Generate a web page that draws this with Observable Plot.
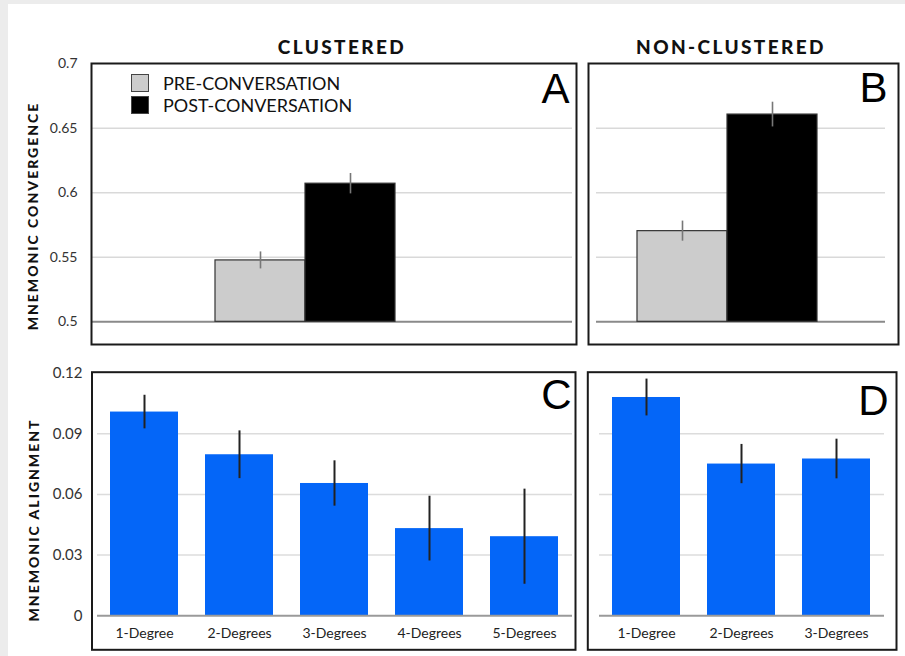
<!DOCTYPE html>
<html><head><meta charset="utf-8">
<script src="https://cdn.jsdelivr.net/npm/d3@7"></script>
<script src="https://cdn.jsdelivr.net/npm/@observablehq/plot@0.6"></script>
<style>
body{margin:0;background:#ececec;}
#wrap{position:relative;width:905px;height:656px;overflow:hidden;background:#ececec;font-family:Lato,sans-serif;}
#card{position:absolute;left:8px;top:4px;right:0;bottom:0;background:#fff;}
#wrap svg{position:absolute;}
.title{position:absolute;transform:translate(-50%,-50%);font-weight:900;font-size:19px;letter-spacing:2.4px;color:#111;white-space:nowrap;}
.ylab{position:absolute;transform:translate(-50%,-50%) rotate(-90deg);font-weight:900;font-size:14px;letter-spacing:2px;white-space:nowrap;color:#111;}
.sw{position:absolute;width:16px;height:16px;border:1.5px solid #444;}
.lt{position:absolute;font-size:18px;color:#111;white-space:nowrap;transform:translateY(-50%);}
</style>
</head><body>
<div id="wrap"><div id="card"></div></div>
<script>
// ---- data ----
const conditions = ["PRE-CONVERSATION", "POST-CONVERSATION"];
const conditionColors = ["#cccccc", "#000000"];
const clusteredConvergence = [0.5476, 0.6071];
const clusteredConvergenceErr = [0.0066, 0.0079];
const nonClusteredConvergence = [0.5703, 0.6607];
const nonClusteredConvergenceErr = [0.0078, 0.0096];
const clusteredDegrees = ["1-Degree", "2-Degrees", "3-Degrees", "4-Degrees", "5-Degrees"];
const clusteredAlignment = [0.1007, 0.0796, 0.0654, 0.0431, 0.0391];
const clusteredAlignmentErr = [0.0083, 0.0118, 0.0112, 0.0160, 0.0235];
const nonClusteredDegrees = ["1-Degree", "2-Degrees", "3-Degrees"];
const nonClusteredAlignment = [0.1079, 0.0750, 0.0775];
const nonClusteredAlignmentErr = [0.0091, 0.0097, 0.0098];
const convergenceTicks = [0.5, 0.55, 0.6, 0.65, 0.7];
const alignmentTicks = [0, 0.03, 0.06, 0.09, 0.12];
const convergenceBaseline = 0.5;
const panelLetters = ["A", "B", "C", "D"];
const columnTitles = ["CLUSTERED", "NON-CLUSTERED"];
const yLabels = ["MNEMONIC CONVERGENCE", "MNEMONIC ALIGNMENT"];

const wrap = document.getElementById("wrap");
const baseStyle = {fontFamily: "Lato, sans-serif", fontSize: "14px", color: "#333", background: "transparent", overflow: "visible"};

function place(svg, left, top) {
  svg.style.left = left + "px";
  svg.style.top = top + "px";
  wrap.appendChild(svg);
}

function convergencePanel(o) {
  const rows = conditions.map((c, i) => ({cond: c, v: o.values[i], base: convergenceBaseline, lo: o.values[i] - o.errs[i], hi: o.values[i] + o.errs[i]}));
  return Plot.plot({
    width: o.width, height: 350,
    marginTop: 63, marginBottom: 6, marginLeft: o.marginLeft, marginRight: o.marginRight,
    style: {...baseStyle, fontSize: "14px"},
    x: {domain: conditions, range: o.xRange, padding: 0, axis: null},
    y: {domain: [0.4824, 0.7003], ticks: convergenceTicks, tickFormat: d => String(d), tickSize: 0, tickPadding: 14, axis: o.axis ? "left" : null, label: null},
    color: {domain: conditions, range: conditionColors},
    marks: [
      Plot.ruleY(convergenceTicks.filter(t => t > convergenceBaseline && t < 0.7), {stroke: "#d9d9d9", strokeWidth: 1.5, insetLeft: o.insetLeft, insetRight: o.insetRight}),
      Plot.ruleY([convergenceBaseline], {stroke: "#8a8a8a", strokeWidth: 2, insetLeft: o.insetLeft, insetRight: o.insetRight}),
      Plot.barY(rows, {x: "cond", y1: "base", y2: "v", fill: "cond", stroke: "#333", strokeWidth: 1.2}),
      Plot.ruleX(rows, {x: "cond", y1: "lo", y2: "hi", stroke: "#777", strokeWidth: 1.6}),
      Plot.frame({stroke: "#1a1a1a", strokeWidth: 2}),
      Plot.text([o.letter], {frameAnchor: "top-right", dx: o.dx, dy: o.dy, fontSize: 42, fontFamily: "Liberation Sans, Arial, sans-serif", fill: "#000"})
    ]
  });
}

function alignmentPanel(o) {
  const rows = o.labels.map((l, i) => ({deg: l, v: o.values[i], lo: o.values[i] - o.errs[i], hi: o.values[i] + o.errs[i]}));
  return Plot.plot({
    width: o.width, height: 306,
    marginTop: 21.7, marginBottom: 6.7, marginLeft: o.marginLeft, marginRight: o.marginRight,
    style: {...baseStyle, fontSize: "15px"},
    x: {domain: o.labels, range: o.xRange, paddingInner: 0.286, paddingOuter: 0.143, axis: null},
    y: {domain: [-0.0168, 0.1204], ticks: alignmentTicks, tickFormat: d => String(d), tickSize: 0, tickPadding: 9.5, axis: o.axis ? "left" : null, label: null},
    marks: [
      Plot.ruleY(alignmentTicks.filter(t => t > 0 && t < 0.12), {stroke: "#dcdcdc", strokeWidth: 1.5, insetLeft: o.insetLeft, insetRight: o.insetRight}),
      Plot.barY(rows, {x: "deg", y: "v", fill: "#0466f8"}),
      Plot.ruleY([0], {stroke: "#9a9a9a", strokeWidth: 2, insetLeft: o.insetLeft, insetRight: o.insetRight}),
      Plot.ruleX(rows, {x: "deg", y1: "lo", y2: "hi", stroke: "#222", strokeWidth: 2}),
      Plot.text(o.labels, {x: d => d, frameAnchor: "bottom", dy: -12, fontSize: 14, fill: "#222"}),
      Plot.frame({stroke: "#1a1a1a", strokeWidth: 2}),
      Plot.text([o.letter], {frameAnchor: "top-right", dx: o.dx, dy: o.dy, fontSize: 42, fontFamily: "Liberation Sans, Arial, sans-serif", fill: "#000"})
    ]
  });
}

place(convergencePanel({values: clusteredConvergence, errs: clusteredConvergenceErr, letter: panelLetters[0], width: 580, marginLeft: 91, marginRight: 4, xRange: [214, 395], insetLeft: 0, insetRight: 4, axis: true, dx: -7, dy: 10}), 0, 0);
place(convergencePanel({values: nonClusteredConvergence, errs: nonClusteredConvergenceErr, letter: panelLetters[1], width: 325, marginLeft: 8, marginRight: 7, xRange: [57, 237], insetLeft: 8, insetRight: 13, axis: false, dx: -11, dy: 9}), 580, 0);
place(alignmentPanel({labels: clusteredDegrees, values: clusteredAlignment, errs: clusteredAlignmentErr, letter: panelLetters[2], width: 580, marginLeft: 91.5, marginRight: 5, xRange: [96.4, 572.4], insetLeft: 5.5, insetRight: 3, axis: true, dx: -4, dy: 7}), 0, 350);
place(alignmentPanel({labels: nonClusteredDegrees, values: nonClusteredAlignment, errs: nonClusteredAlignmentErr, letter: panelLetters[3], width: 325, marginLeft: 7.3, marginRight: 9, xRange: [18.5, 304], insetLeft: 11.7, insetRight: 12, axis: false, dx: -8, dy: 13}), 580, 350);

// titles
[[columnTitles[0], 342, 46], [columnTitles[1], 731, 46]].forEach(([t, x, y]) => {
  const d = document.createElement("div");
  d.className = "title"; d.textContent = t;
  d.style.left = x + "px"; d.style.top = y + "px";
  wrap.appendChild(d);
});
// y labels
[[yLabels[0], 32, 216], [yLabels[1], 33, 520]].forEach(([t, x, y]) => {
  const d = document.createElement("div");
  d.className = "ylab"; d.textContent = t;
  d.style.left = x + "px"; d.style.top = y + "px";
  wrap.appendChild(d);
});
// legend
conditions.forEach((c, i) => {
  const top = 74 + i * 22;
  const s = document.createElement("div");
  s.className = "sw";
  s.style.left = "131px"; s.style.top = top + "px";
  s.style.background = conditionColors[i];
  wrap.appendChild(s);
  const t = document.createElement("div");
  t.className = "lt"; t.textContent = c;
  t.style.left = "163px"; t.style.top = (top + 9) + "px";
  wrap.appendChild(t);
});
</script>
</body></html>
